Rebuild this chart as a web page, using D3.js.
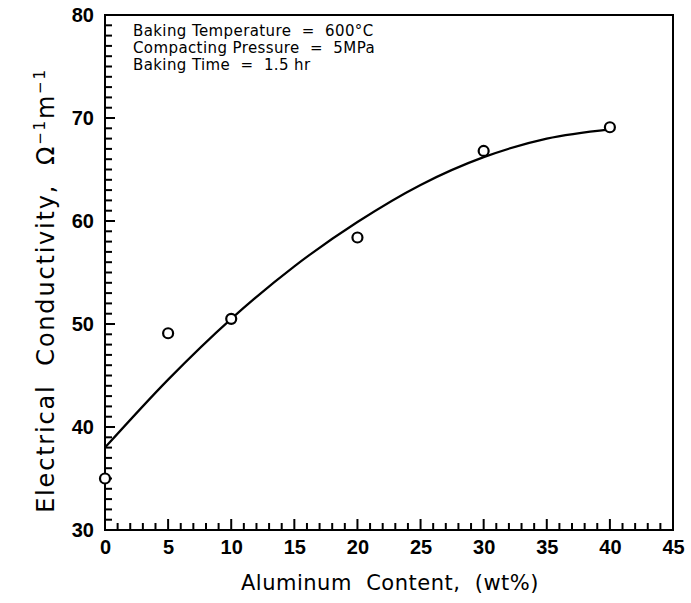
<!DOCTYPE html>
<html>
<head>
<meta charset="utf-8">
<script src="https://cdn.jsdelivr.net/npm/d3@7"></script>
<style>
  body { margin: 0; background: #fff; }
  svg { font-family: "DejaVu Sans", sans-serif; }
</style>
</head>
<body>
<svg id="chart" width="691" height="603"></svg>
<script>
// measured points
const alContent = [0, 5, 10, 20, 30, 40];
const conductivity = [35.0, 49.1, 50.5, 58.4, 66.8, 69.1];

// fitted curve
const fitX = [0, 5, 10, 15, 20, 25, 30, 35, 40];
const fitY = [38.0, 44.6, 50.5, 55.6, 59.9, 63.5, 66.2, 68.0, 68.9];

const xTicks = [0, 5, 10, 15, 20, 25, 30, 35, 40, 45];
const yTicks = [30, 40, 50, 60, 70, 80];

const notes = [
    "Baking Temperature  =  600°C",
    "Compacting Pressure  =  5MPa",
    "Baking Time  =  1.5 hr"
];

const margin = { left: 105, right: 18, top: 15, bottom: 73 };
const width = 691, height = 603;

const svg = d3.select('#chart');

const x = d3.scaleLinear()
    .domain([0, 45])
    .range([margin.left, width - margin.right]);
const y = d3.scaleLinear()
    .domain([30, 80])
    .range([height - margin.bottom, margin.top]);

// frame
svg.append('rect')
    .attr('x', x(0))
    .attr('y', y(80))
    .attr('width', x(45) - x(0))
    .attr('height', y(30) - y(80))
    .attr('fill', 'none')
    .attr('stroke', '#000')
    .attr('stroke-width', 2);

// minor ticks (inward), majors a bit longer
const xMinor = d3.range(0, 46, 1);
const yMinor = d3.range(30, 81, 1);

svg.append('g')
    .selectAll('line')
    .data(xMinor)
    .enter().append('line')
    .attr('x1', d => x(d))
    .attr('x2', d => x(d))
    .attr('y1', y(30))
    .attr('y2', d => y(30) - (d % 5 == 0 ? 11 : 7))
    .attr('stroke', '#000')
    .attr('stroke-width', 2);

svg.append('g')
    .selectAll('line')
    .data(yMinor)
    .enter().append('line')
    .attr('x1', x(0))
    .attr('x2', d => x(0) + (d % 10 == 0 ? 10 : 7))
    .attr('y1', d => y(d))
    .attr('y2', d => y(d))
    .attr('stroke', '#000')
    .attr('stroke-width', 2);

// tick labels through d3 axes, tick lines hidden
const xAxis = svg.append('g')
    .attr('transform', `translate(0,${y(30)})`)
    .call(d3.axisBottom(x).tickValues(xTicks).tickSize(0).tickPadding(9));
const yAxis = svg.append('g')
    .attr('transform', `translate(${x(0)},0)`)
    .call(d3.axisLeft(y).tickValues(yTicks).tickSize(0).tickPadding(11));

[xAxis, yAxis].forEach(a => {
    a.select('.domain').remove();
    a.selectAll('text')
        .attr('font-size', 20)
        .attr('font-weight', 'bold')
        .attr('font-family', '"Liberation Sans", Arial, sans-serif')
        .attr('fill', '#000');
});
xAxis.selectAll('text').attr('dy', '0.75em');

// fitted curve
const line = d3.line()
    .x(d => x(d[0]))
    .y(d => y(d[1]))
    .curve(d3.curveMonotoneX);

svg.append('path')
    .datum(fitX.map((d, i) => [d, fitY[i]]))
    .attr('d', line)
    .attr('fill', 'none')
    .attr('stroke', '#000')
    .attr('stroke-width', 2.2);

// data points
svg.append('g')
    .selectAll('circle')
    .data(alContent)
    .enter().append('circle')
    .attr('cx', d => x(d))
    .attr('cy', (d, i) => y(conductivity[i]))
    .attr('r', 5)
    .attr('fill', '#fff')
    .attr('stroke', '#000')
    .attr('stroke-width', 2.2);

// annotation
svg.append('g')
    .selectAll('text')
    .data(notes)
    .enter().append('text')
    .attr('x', 133)
    .attr('y', (d, i) => 36 + i * 17)
    .attr('font-size', 15)
    .attr('letter-spacing', 0.4)
    .style('white-space', 'pre')
    .text(d => d);

// axis titles
svg.append('text')
    .attr('x', 390)
    .attr('y', 590)
    .attr('text-anchor', 'middle')
    .attr('font-size', 21)
    .attr('letter-spacing', 0.5)
    .style('white-space', 'pre')
    .text('Aluminum  Content,  (wt%)');

const yt = svg.append('text')
    .attr('transform', `translate(54,${(y(30) + y(80)) / 2 + 18}) rotate(-90)`)
    .attr('text-anchor', 'middle')
    .attr('font-size', 24)
    .attr('letter-spacing', 1.8)
    .style('white-space', 'pre');
yt.append('tspan').text('Electrical  Conductivity,  Ω');
yt.append('tspan').attr('dy', -9).attr('font-size', 15).text('−1');
yt.append('tspan').attr('dy', 9).text('m');
yt.append('tspan').attr('dy', -9).attr('font-size', 15).text('−1');
</script>
</body>
</html>
